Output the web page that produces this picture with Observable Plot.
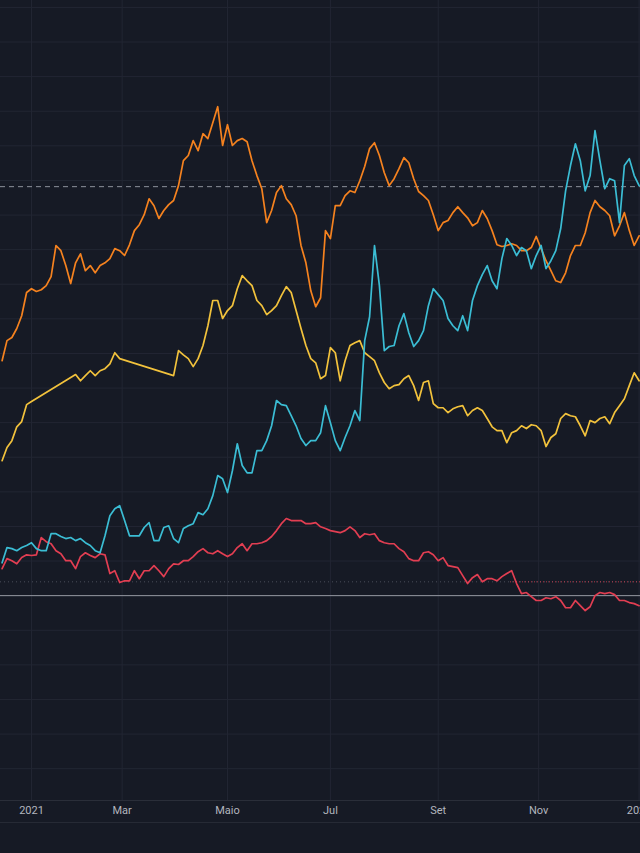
<!DOCTYPE html>
<html><head><meta charset="utf-8">
<script src="https://cdn.jsdelivr.net/npm/d3@7"></script>
<script src="https://cdn.jsdelivr.net/npm/@observablehq/plot@0.6"></script>
<style>
html,body{margin:0;padding:0;background:#161a25;}
#chart{position:relative;width:640px;height:853px;overflow:hidden;background:#161a25;}
#chart svg{display:block;}
#sep{position:absolute;left:0;top:822px;width:640px;height:0;border-top:1px solid #262a35;}
</style></head><body><div id="chart"><div id="sep"></div></div>
<script>
// x = trading-session index (0 = first session of 2021), sampled every 2 sessions
const sessions = [-12,-10,-8,-6,-4,-2,0,2,4,6,8,10,12,14,16,18,20,22,24,26,28,30,32,34,36,38,40,42,44,46,48,50,52,54,56,58,60,62,64,66,68,70,72,74,76,78,80,82,84,86,88,90,92,94,96,98,100,102,104,106,108,110,112,114,116,118,120,122,124,126,128,130,132,134,136,138,140,142,144,146,148,150,152,154,156,158,160,162,164,166,168,170,172,174,176,178,180,182,184,186,188,190,192,194,196,198,200,202,204,206,208,210,212,214,216,218,220,222,224,226,228,230,232,234,236,238,240,242,244,246,248];

// % change series
const orange = [67.9,73.7,74.6,77.2,80.9,87.6,88.7,87.9,88.4,89.6,92.2,101.2,99.7,95.4,90.2,96.2,98.8,93.9,95.4,93.3,95.4,96.2,97.4,100.3,99.7,98.3,101.4,105.5,107.2,110.1,114.7,112.7,109.0,111.3,113.0,114.2,118.5,125.7,127.2,131.5,128.6,133.5,132.1,136.7,141.3,130.1,136.1,130.1,131.5,132.1,131.2,125.7,121.4,117.6,107.8,111.3,116.5,118.5,114.7,113.0,109.8,101.2,96.2,88.1,83.5,86.1,105.5,103.2,112.7,112.7,115.6,117.0,116.5,119.9,124.0,129.2,130.9,127.2,122.2,118.5,120.5,123.4,126.6,125.1,120.5,116.8,115.6,114.2,110.1,105.5,107.8,108.4,110.7,112.4,110.7,109.2,106.9,107.8,111.3,109.0,105.5,101.4,100.9,101.2,101.7,101.2,99.7,99.7,100.6,103.8,100.3,96.8,93.9,91.0,90.5,93.3,98.3,101.2,101.2,104.9,110.7,114.2,112.4,111.3,109.8,104.0,106.9,110.7,105.5,101.2,104.0];

const yellow = [39.0,42.8,44.8,48.8,50.3,55.2,56.1,null,null,null,null,null,null,null,null,63.9,62.1,63.6,65.0,63.6,65.0,65.6,67.0,70.2,68.5,null,null,null,null,null,null,null,null,null,null,63.6,70.8,69.6,68.5,66.2,68.5,72.3,78.0,85.3,85.3,80.1,82.4,83.8,88.7,92.5,91.0,89.6,85.3,83.8,81.2,82.4,83.8,86.7,89.3,87.6,82.4,77.2,72.3,68.5,67.3,62.7,63.6,71.7,70.2,62.1,67.9,72.3,73.1,73.7,70.2,69.1,67.9,64.4,61.6,59.8,60.7,61.0,62.7,63.6,60.7,56.4,61.6,62.1,55.5,54.3,54.3,52.9,54.0,54.6,54.9,52.0,53.5,54.3,53.5,51.2,48.8,47.7,47.7,44.2,47.1,47.7,49.1,48.3,49.4,49.1,47.7,43.1,45.7,46.8,51.2,52.6,52.0,51.7,49.1,46.2,50.6,50.0,51.2,51.7,49.7,52.9,54.9,56.9,60.7,64.4,62.1];

const cyan = [9.5,13.9,13.6,13.0,13.9,14.5,15.3,13.6,13.0,13.0,17.9,17.9,17.1,16.5,16.8,15.9,16.5,15.3,14.5,13.0,12.4,17.3,23.1,25.1,26.0,21.7,17.3,17.3,17.3,19.7,21.1,15.9,15.9,19.7,20.2,16.5,15.3,19.4,20.2,20.8,24.0,23.4,25.1,28.9,34.7,33.8,29.8,36.1,43.9,37.6,35.5,35.5,41.9,41.9,44.8,49.1,56.4,55.2,54.9,52.0,49.1,45.4,43.4,44.8,44.8,47.1,54.9,50.0,44.8,41.9,45.7,49.1,53.5,50.6,73.7,80.6,101.2,89.6,70.8,72.0,72.3,78.0,81.5,76.0,72.0,73.7,76.6,83.8,88.7,87.0,85.3,80.1,78.0,76.6,80.9,76.6,85.3,89.6,92.8,95.4,91.0,88.7,97.4,103.2,101.2,98.3,100.6,99.7,94.5,98.3,101.2,94.5,96.8,99.7,106.1,117.0,124.3,130.6,125.7,117.0,121.4,134.4,125.7,117.6,120.5,119.9,107.8,124.3,126.3,121.4,118.5];

const red = [7.8,10.7,10.1,9.2,11.0,11.8,11.6,11.8,16.8,15.6,15.0,13.0,12.1,10.1,10.1,7.8,11.3,12.4,11.6,11.0,12.1,11.8,6.4,7.2,3.8,4.3,4.3,7.2,4.9,7.2,7.2,8.7,7.2,5.5,7.8,9.2,9.0,10.1,10.1,11.3,12.7,13.6,12.4,12.1,13.0,12.1,11.3,12.1,13.9,15.0,13.0,15.0,15.0,15.3,15.9,17.1,18.8,20.8,22.3,21.7,21.7,21.7,20.8,20.8,21.1,19.9,19.4,18.8,18.5,18.2,18.8,19.9,18.8,16.8,17.9,17.6,17.9,15.9,15.3,15.0,15.0,13.6,12.7,10.7,10.1,10.1,12.4,12.7,11.8,10.1,11.0,8.7,8.4,8.1,5.8,3.5,5.2,6.1,4.0,4.9,4.9,4.3,5.5,6.4,7.2,3.5,0.6,0.9,-0.3,-1.4,-1.4,-0.6,-0.9,-0.3,-1.4,-3.5,-3.5,-1.4,-2.9,-4.3,-3.2,0.0,0.9,0.6,0.9,0.3,-1.4,-1.4,-2.0,-2.3,-2.9];

const tickSessions = [0, 37, 80, 122, 166, 207, 248];
const tickLabels = ["2021", "Mar", "Maio", "Jul", "Set", "Nov", "2022"];
const gridLevels = [-50,-40,-30,-20,-10,0,10,20,30,40,50,60,70,80,90,100,110,120,130,140,150,160,170];
const dashedLevel = 118.2;
const baseLevel = 0;
const priceLevel = 4.0;
const priceLineFrom = 195.5;

const xDomain = [-12.65, 248.57];
const yDomain = [-59.2, 172.0];

function toRows(vals){
  return sessions.map((s, i) => ({s, v: vals[i]})).filter(d => d.v != null);
}

const colors = {orange:"#f5821f", yellow:"#f2c23c", cyan:"#3bbdd4", red:"#e23e52"};

const chart = Plot.plot({
  width: 640,
  height: 853,
  marginTop: 0,
  marginBottom: 53,
  marginLeft: 0,
  marginRight: 0,
  style: {background: "#161a25", color: "#b2b5be", fontFamily: "Roboto, 'Liberation Sans', sans-serif", overflow: "hidden"},
  x: {domain: xDomain, axis: null, label: null},
  y: {domain: yDomain, axis: null, label: null},
  marks: [
    Plot.ruleY(gridLevels, {stroke: "#222633", strokeWidth: 1}),
    Plot.ruleX(tickSessions, {stroke: "#222633", strokeWidth: 1}),
    Plot.ruleY([priceLevel], {stroke: "#4a4e5a", strokeDasharray: "1,3", strokeWidth: 1}),
    Plot.ruleY([priceLevel], {x1: priceLineFrom, x2: xDomain[1], stroke: colors.red, strokeDasharray: "1,2", strokeWidth: 1, strokeOpacity: 0.8}),
    Plot.ruleY([dashedLevel], {stroke: "#8d919c", strokeDasharray: "5,4", strokeWidth: 1}),
    Plot.ruleY([baseLevel], {stroke: "#9598a1", strokeWidth: 1}),
    Plot.line(toRows(red), {x: "s", y: "v", stroke: colors.red, strokeWidth: 1.7}),
    Plot.line(toRows(yellow), {x: "s", y: "v", stroke: colors.yellow, strokeWidth: 1.7}),
    Plot.line(toRows(orange), {x: "s", y: "v", stroke: colors.orange, strokeWidth: 1.7}),
    Plot.line(toRows(cyan), {x: "s", y: "v", stroke: colors.cyan, strokeWidth: 1.7}),
    Plot.ruleY([yDomain[0]], {stroke: "#2a2e39", strokeWidth: 1}),
    Plot.axisX(tickSessions, {
      label: null,
      tickSize: 0,
      tickPadding: 6,
      fontSize: 11,
      fill: "#b2b5be",
      tickFormat: d => tickLabels[tickSessions.indexOf(d)]
    })
  ]
});
document.getElementById("chart").prepend(chart);
</script>
</body></html>
